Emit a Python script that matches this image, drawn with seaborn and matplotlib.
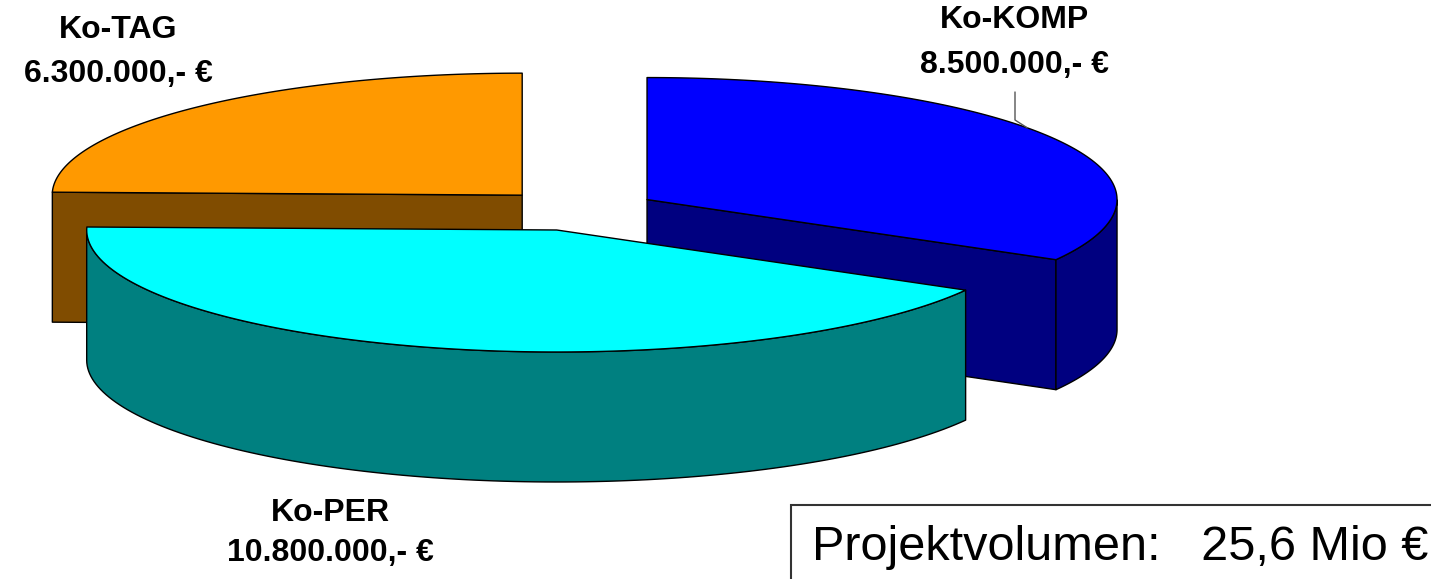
import numpy as np
import matplotlib
matplotlib.use("Agg")
import matplotlib.pyplot as plt
import seaborn as sns
from matplotlib.patches import Polygon, Rectangle

sns.set_theme(style="white")
plt.rcParams['font.family'] = ['Liberation Sans', 'DejaVu Sans']

# data
labels = ["Ko-KOMP", "Ko-PER", "Ko-TAG"]
values = [8500000, 10800000, 6300000]
value_texts = ["8.500.000,- €", "10.800.000,- €", "6.300.000,- €"]
top_colors = ["#0000FF", "#00FFFF", "#FF9900"]
side_colors = ["#000080", "#008080", "#804C00"]
total_text = "Projektvolumen:   25,6 Mio €"

# pie geometry (pixel space)
CX, CY = 578, 210
RX, RY = 470, 122
DEPTH = 130
EXPLODE = 0.17


def pt(c, a, dy=0):
    return (c[0] + RX * np.cos(np.radians(a)), c[1] - RY * np.sin(np.radians(a)) + dy)


def arc(c, a1, a2, dy=0, n=120):
    return [pt(c, a, dy) for a in np.linspace(a1, a2, n)]


fig = plt.figure(figsize=(14.31, 5.79), dpi=100)
ax = fig.add_axes([0, 0, 1, 1])
ax.set_xlim(0, 1431)
ax.set_ylim(579, 0)
ax.axis("off")

fracs = np.array(values) / sum(values)
start = 90.0
slices = []
for i, f in enumerate(fracs):
    a1 = start
    a2 = start - f * 360
    start = a2
    mid = (a1 + a2) / 2
    c = (CX + EXPLODE * RX * np.cos(np.radians(mid)),
         CY - EXPLODE * RY * np.sin(np.radians(mid)))
    slices.append((i, a1, a2, mid, c))

# draw back to front
for i, a1, a2, mid, c in sorted(slices, key=lambda s: -np.sin(np.radians(s[3]))):
    kw = dict(edgecolor="black", linewidth=1.0, joinstyle="round")
    # radial cut faces
    for a, vis in ((a1, np.cos(np.radians(a1)) < -1e-6), (a2, np.cos(np.radians(a2)) > 1e-6)):
        if vis:
            p = pt(c, a)
            face = [c, p, (p[0], p[1] + DEPTH), (c[0], c[1] + DEPTH)]
            ax.add_patch(Polygon(face, closed=True, facecolor=side_colors[i], **kw))
    # outer wall, front half only
    angs = np.linspace(a2, a1, 400)
    front = angs[np.sin(np.radians(angs)) < 0]
    if len(front) > 1:
        top = arc(c, front[0], front[-1])
        bot = arc(c, front[-1], front[0], DEPTH)
        ax.add_patch(Polygon(top + bot, closed=True, facecolor=side_colors[i], **kw))
    # top face
    ax.add_patch(Polygon([c] + arc(c, a1, a2), closed=True, facecolor=top_colors[i], **kw))

# labels
lab_font = dict(fontsize=23, fontweight="bold", ha="center", va="center", color="black")
label_pos = {0: (1014, 20, 65), 1: (330, 513, 553), 2: (118, 30, 74)}
for i, (x, y1, y2) in label_pos.items():
    ax.text(x, y1, labels[i], **lab_font)
    ax.text(x, y2, value_texts[i], **lab_font)

# leader line for Ko-KOMP
komp = slices[0]
anchor = pt(komp[4], 36)
ax.plot([1015, 1015, anchor[0]], [92, 120, anchor[1]], color="#555555", lw=1.0)

# total box
ax.add_patch(Rectangle((791, 505), 700, 120, facecolor="white", edgecolor="#333333", lw=1.5))
ax.text(812, 548, total_text, fontsize=35, ha="left", va="center", color="black")

fig.savefig("out.png", dpi=100)
